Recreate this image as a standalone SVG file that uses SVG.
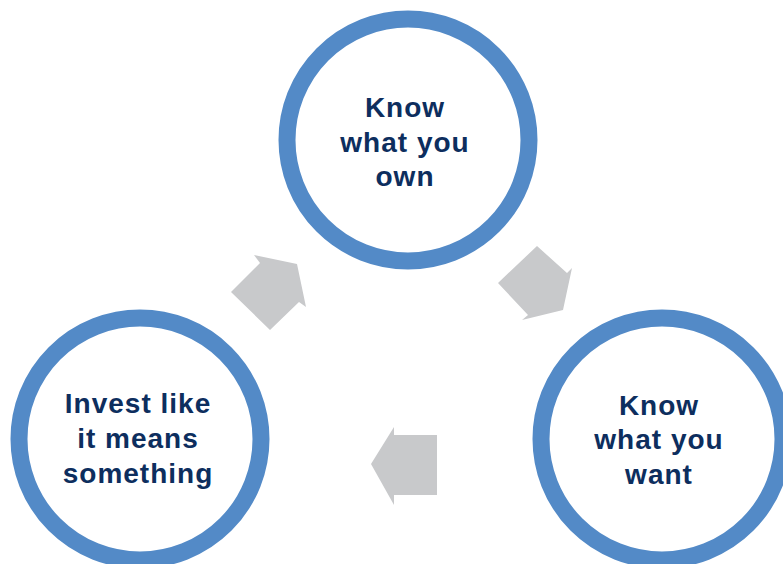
<svg xmlns="http://www.w3.org/2000/svg" width="783" height="564" viewBox="0 0 783 564">
<style>
.ring{fill:#fff;stroke:#538AC7;stroke-width:17}
.lbl{font-family:"Liberation Sans",Arial,sans-serif;font-weight:bold;font-size:28px;fill:#0D2E5E;text-anchor:middle;letter-spacing:1px}
.arr{fill:#C8C9CB}
</style>
<rect width="783" height="564" fill="#fff"/>
<g id="connectors">
<polygon class="arr" points="231,292 260,263 254,255 297,264 306,307 299,302 270,330"/>
<polygon class="arr" points="537,246 567,273 572,268 563,310 522,320 528,315 498,283"/>
<polygon class="arr" points="437,435 394,435 394,427 371,464 394,505 394,495 437,495"/>
</g>
<g id="node-own">
<circle class="ring" cx="408" cy="140" r="121"/>
<text class="lbl" x="405" y="117">Know</text>
<text class="lbl" x="405" y="152">what you</text>
<text class="lbl" x="405" y="186">own</text>
</g>
<g id="node-want">
<circle class="ring" cx="662" cy="439" r="121"/>
<text class="lbl" x="659" y="415">Know</text>
<text class="lbl" x="659" y="449">what you</text>
<text class="lbl" x="659" y="484">want</text>
</g>
<g id="node-invest">
<circle class="ring" cx="140" cy="439" r="121"/>
<text class="lbl" x="138" y="413">Invest like</text>
<text class="lbl" x="138" y="448">it means</text>
<text class="lbl" x="138" y="483">something</text>
</g>
</svg>
